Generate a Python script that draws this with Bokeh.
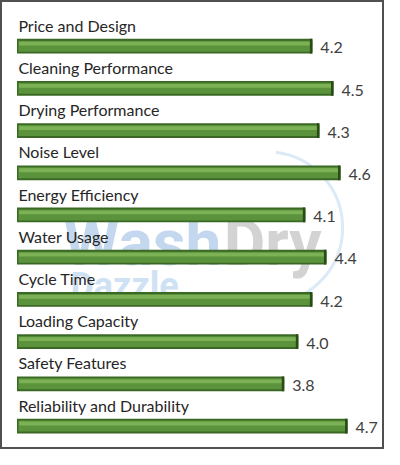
from bokeh.plotting import figure
from bokeh.models import Range1d
from bokeh.core.properties import value
from bokeh.embed import file_html
from bokeh.resources import INLINE

categories = ["Price and Design", "Cleaning Performance", "Drying Performance",
              "Noise Level", "Energy Efficiency", "Water Usage", "Cycle Time",
              "Loading Capacity", "Safety Features", "Reliability and Durability"]
ratings = [4.2, 4.5, 4.3, 4.6, 4.1, 4.4, 4.2, 4.0, 3.8, 4.7]
value_labels = [f"{v:.1f}" for v in ratings]

rows = list(range(len(categories)))

p = figure(width=384, height=449,
           x_range=Range1d(-0.2346, 5.226), y_range=Range1d(9.556, -1.0815),
           x_axis_location=None, y_axis_location=None,
           toolbar_location=None, output_backend="svg", min_border=0)
p.grid.visible = False
p.outline_line_color = "#505050"
p.outline_line_width = 3
p.background_fill_color = "white"
p.border_fill_color = "white"

# faint watermark
p.arc(x=[3.55], y=[4.3], radius=76, radius_units="screen", start_angle=-1.45, end_angle=1.45,
      line_color="#dceaf7", line_width=3)
p.text(x=[0.66], y=[4.675], text=["Wash"], text_font=value("Roboto"),
       text_font_style="bold", text_font_size="64px", text_color="#c3d8ee",
       text_baseline="alphabetic")
p.text(x=[2.94], y=[4.675], text=["Dry"], text_font=value("Roboto"),
       text_font_style="bold", text_font_size="64px", text_color="#d3d3d3",
       text_baseline="alphabetic")
p.text(x=[0.76], y=[5.68], text=["Dazzle"], text_font=value("Roboto"),
       text_font_style="bold", text_font_size="36px", text_color="#cfe2f4",
       text_baseline="alphabetic")

# bars (layered to imitate bevel)
p.hbar(y=rows, left=0, right=ratings, height=0.35, fill_color="#3b6824", line_color=None)
p.hbar(y=rows, left=0.02, right=ratings, height=0.26, fill_color="#5a933b", line_color=None)
p.hbar(y=[r - 0.06 for r in rows], left=0.03, right=ratings, height=0.09,
       fill_color="#7cb255", line_color=None)
p.hbar(y=rows, left=[v - 0.035 for v in ratings], right=ratings, height=0.35,
       fill_color="#2a4a18", line_color=None)

p.text(x=0.02, y=[r - 0.495 for r in rows], text=categories,
       text_font=value("Lato"), text_font_size="16px", text_color="#262626",
       text_baseline="alphabetic")
p.text(x=[v + 0.114 for v in ratings], y=[r + 0.04 for r in rows], text=value_labels,
       text_font=value("Lato"), text_font_size="16px", text_color="#404040",
       text_baseline="middle")

open("out.html", "w").write(file_html(p, INLINE))
